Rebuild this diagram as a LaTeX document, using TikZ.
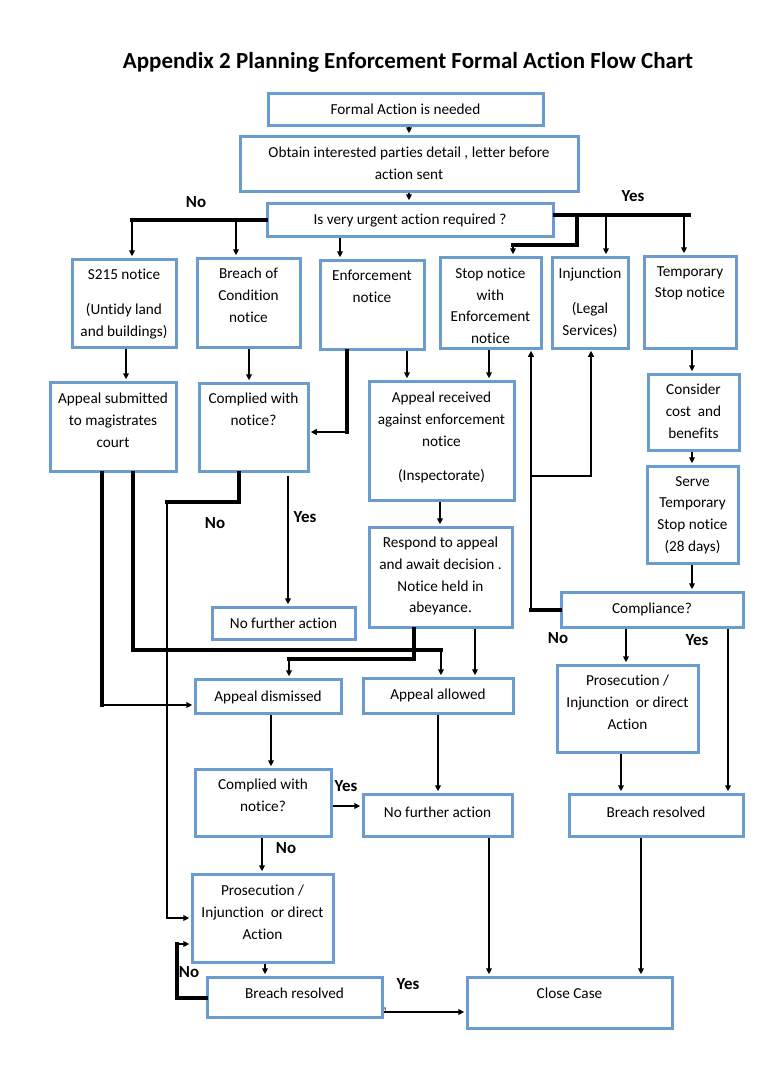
\documentclass[tikz,border=0pt]{standalone}
\usepackage{fontspec}
\setmainfont{Carlito}[Ligatures={NoCommon}]
\usetikzlibrary{arrows.meta,calc}
\definecolor{boxblue}{RGB}{106,156,208}
\newcommand\bx[5]{\node[box, minimum width={(#4-#2)*0.8pt}, minimum height={(#5-#3)*0.8pt}] (#1) at ({(#2+#4)/2},{(#3+#5)/2}) {};}
\newcommand\tx[3]{\node[txt, anchor=north, yshift=4pt] (#1t) at (#1.north |- 0,#2) {#3};}
\begin{document}
\begin{tikzpicture}[x=0.8pt,y=-0.8pt,
  box/.style={draw=boxblue, line width=2.4pt, inner sep=0pt, rectangle},
  txt/.style={inner sep=0pt, align=center, font=\fontsize{12.2}{17.3}\selectfont, execute at begin node=\rule{0pt}{10pt}},
  lbl/.style={inner sep=0pt, font=\fontsize{13.5}{16}\selectfont\bfseries},
  thn/.style={line width=1.6pt, line join=miter},
  thk/.style={line width=3.2pt, line join=miter, line cap=rect},
  arr/.style={thn, -{Triangle[length=4.8pt,width=4.6pt]}, shorten >=1pt}]
\useasboundingbox (0,0) rectangle (763,1079);
\fill[white] (0,0) rectangle (763,1079);
\node[inner sep=0pt, font=\fontsize{18.4}{22}\selectfont\bfseries] (title) at (408,62) {Appendix 2 Planning Enforcement Formal Action Flow Chart};
% boxes
\bx{formal}{268}{93}{543}{125}
\bx{obtain}{240}{136}{578}{191}
\bx{urgent}{267}{203}{553}{236}
\bx{s215}{72}{259}{176}{347}
\bx{boc}{197}{258}{300}{347}
\bx{enf}{320}{260}{424}{349}
\bx{stop}{440}{257}{541}{348}
\bx{inj}{552}{257}{628}{348}
\bx{temp}{644}{256}{736}{348}
\bx{appsub}{50}{382}{176}{471}
\bx{comp1}{199}{383}{308}{471}
\bx{appre}{369}{381}{514}{500}
\bx{resp}{369}{527}{512}{627}
\bx{cons}{648}{374}{739}{450}
\bx{serve}{647}{466}{738}{563}
\bx{compl}{561}{592}{743}{627}
\bx{nfa1}{212}{607}{355}{639}
\bx{adis}{195}{679}{341}{713}
\bx{aall}{363}{678}{513}{713}
\bx{pros2}{557}{665}{698}{752}
\bx{br2}{569}{794}{743}{836}
\bx{comp2}{195}{769}{331}{836}
\bx{nfa2}{363}{794}{512}{836}
\bx{pros1}{192}{874}{333}{962}
\bx{br1}{207}{977}{382}{1017}
\bx{close}{467}{977}{672}{1028}
% texts
\tx{formal}{107}{Formal Action is needed}
\tx{obtain}{152}{Obtain interested parties detail , letter before\\action sent}
\tx{urgent}{217}{Is very urgent action required ?}
\tx{s215}{274}{S215 notice\\[10.7pt](Untidy land\\and buildings)}
\tx{boc}{273}{Breach of\\Condition\\notice}
\tx{enf}{275}{Enforcement\\notice}
\tx{stop}{273}{Stop notice\\with\\Enforcement\\notice}
\tx{inj}{273}{Injunction\\[10.7pt](Legal\\Services)}
\tx{temp}{271}{Temporary\\Stop notice}
\tx{appsub}{398}{Appeal submitted\\to magistrates\\court}
\tx{comp1}{398}{Complied with\\notice?}
\tx{appre}{397}{Appeal received\\against enforcement\\notice\\[10pt](Inspectorate)}
\tx{resp}{542}{Respond to appeal\\and await decision .\\Notice held in\\abeyance.}
\tx{cons}{389}{Consider\\cost~ and\\benefits}
\tx{serve}{481}{Serve\\Temporary\\Stop notice\\(28 days)}
\tx{compl}{606}{Compliance?}
\tx{nfa1}{621}{No further action}
\tx{adis}{694}{Appeal dismissed}
\tx{aall}{692}{Appeal allowed}
\tx{pros2}{680}{Prosecution /\\Injunction~ or direct\\Action}
\tx{br2}{810}{Breach resolved}
\tx{comp2}{784}{Complied with\\notice?}
\tx{nfa2}{810}{No further action}
\tx{pros1}{890}{Prosecution /\\Injunction~ or direct\\Action}
\tx{br1}{991}{Breach resolved}
\tx{close}{991}{Close Case}
% coordinates
\foreach \v in {102,126,132,133,167,177,236,239,249,262,265,271,288,289,340,347,407,409,414,438,440,441,475,489,513,531,577,591,606,621,626,641,684,689,692,728}
  \coordinate (x\v) at (\v,0);
\foreach \v in {215,245,432,476,502,650,659,705,806,944,998,1012}
  \coordinate (y\v) at (0,\v);
% connectors
\draw[arr] (formal.south -| x409) -- (obtain.north -| x409);
\draw[arr] (obtain.south -| x409) -- (urgent.north -| x409);
\draw[thk] (urgent.west) -- (urgent.west -| x132);
\draw[arr] (urgent.west -| x132) -- (s215.north -| x132);
\draw[arr] (urgent.west -| x236) -- (boc.north -| x236);
\draw[arr] (urgent.south -| x340) -- (enf.north -| x340);
\draw[thk] (urgent.east |- y215) -- (x689 |- y215);
\draw[thk] (x577 |- y215) -- (x577 |- y245) -- (x513 |- y245);
\draw[arr] (x513 |- y245) -- (stop.north -| x513);
\draw[arr] (x606 |- y215) -- (inj.north -| x606);
\draw[arr] (x684 |- y215) -- (temp.north -| x684);
\draw[arr] (s215.south -| x126) -- (appsub.north -| x126);
\draw[arr] (boc.south -| x249) -- (comp1.north -| x249);
\draw[thk] (enf.south -| x347) -- (x347 |- y432);
\draw[arr] (x347 |- y432) -- (comp1.east |- y432);
\draw[arr] (enf.south -| x407) -- (appre.north -| x407);
\draw[arr] (stop.south -| x489) -- (appre.north -| x489);
\draw[arr] (appre.south -| x440) -- (resp.north -| x440);
\draw[arr] (temp.south -| x692) -- (cons.north -| x692);
\draw[arr] (cons.south -| x692) -- (serve.north -| x692);
\draw[arr] (serve.south -| x692) -- (compl.north -| x692);
\draw[thk] (compl.west) -- (compl.west -| x531);
\draw[arr] (compl.west -| x531) -- (stop.south -| x531);
\draw[arr] (x531 |- y476) -- (x591 |- y476) -- (inj.south -| x591);
\draw[arr] (compl.south -| x626) -- (pros2.north -| x626);
\draw[arr] (compl.south -| x728) -- (br2.north -| x728);
\draw[arr] (pros2.south -| x621) -- (br2.north -| x621);
\draw[arr] (br2.south -| x641) -- (close.north -| x641);
\draw[thk] (comp1.south -| x239) -- (x239 |- y502) -- (x167 |- y502);
\draw[arr] (x167 |- y502) -- (x167 |- pros1.west) -- (pros1.west);
\draw[arr] (x288 |- y476) -- (nfa1.north -| x288);
\draw[thk] (appsub.south -| x102) -- (x102 |- y705);
\draw[arr] (x102 |- y705) -- (adis.west |- y705);
\draw[thk] (appsub.south -| x133) -- (x133 |- y650) -- (x441 |- y650);
\draw[arr] (x441 |- y650) -- (aall.north -| x441);
\draw[thk] (resp.south -| x414) -- (x414 |- y659) -- (x289 |- y659);
\draw[arr] (x289 |- y659) -- (adis.north -| x289);
\draw[arr] (resp.south -| x475) -- (aall.north -| x475);
\draw[arr] (adis.south -| x271) -- (comp2.north -| x271);
\draw[arr] (comp2.east |- y806) -- (nfa2.west |- y806);
\draw[arr] (aall.south -| x438) -- (nfa2.north -| x438);
\draw[arr] (nfa2.south -| x489) -- (close.north -| x489);
\draw[arr] (comp2.south -| x262) -- (pros1.north -| x262);
\draw[arr] (pros1.south -| x265) -- (br1.north -| x265);
\draw[thk] (br1.west |- y998) -- (x177 |- y998) -- (x177 |- y944);
\draw[arr] (x177 |- y944) -- (pros1.west |- y944);
\draw[arr] (br1.east |- y1012) -- (close.west |- y1012);
\node[inner sep=0pt, font=\fontsize{6}{7}\selectfont] (one) at (385,1010) {1};
% labels
\node[lbl] (l1) at (196,202) {No};
\node[lbl] (l2) at (633,196) {Yes};
\node[lbl] (l3) at (215,523) {No};
\node[lbl] (l4) at (305,517) {Yes};
\node[lbl] (l5) at (558,638) {No};
\node[lbl] (l6) at (697,640) {Yes};
\node[lbl] (l7) at (346,786) {Yes};
\node[lbl] (l8) at (286,848) {No};
\node[lbl] (l9) at (189,972) {No};
\node[lbl] (l10) at (408,984) {Yes};
\end{tikzpicture}
\end{document}
